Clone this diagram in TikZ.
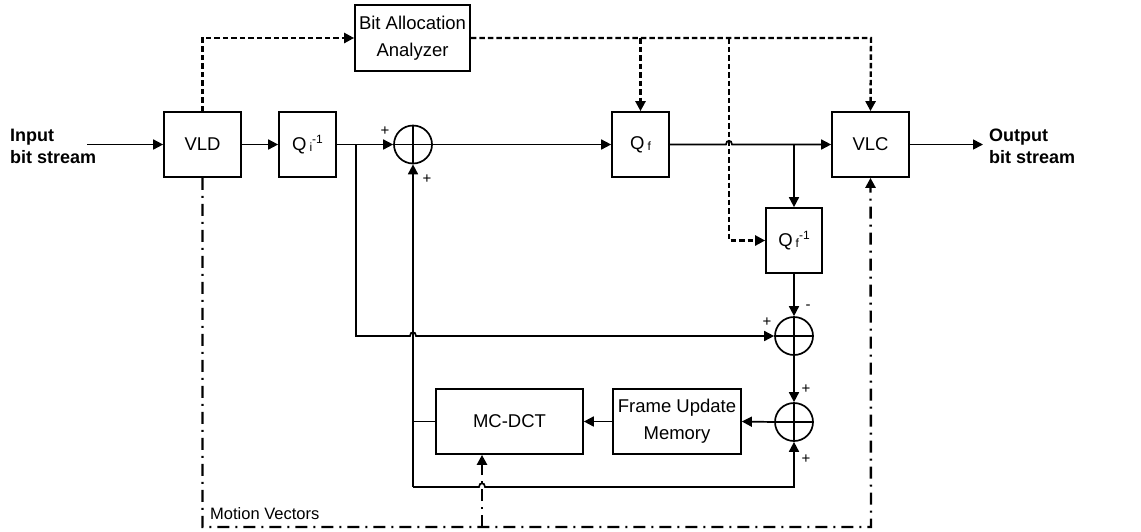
\documentclass[tikz,border=0pt]{standalone}
\usepackage{fontspec}
\setmainfont{Liberation Sans}
\usetikzlibrary{arrows.meta}
\newcommand{\smallsc}[1]{{\fontsize{12}{12}\selectfont #1}}
\begin{document}
\begin{tikzpicture}[x=1pt,y=-1pt,
  every node/.style={font=\fontsize{18.5}{27}\selectfont},
  blk/.style={draw, line width=1.7pt, inner sep=0pt, align=center},
  sumc/.style={draw, circle, minimum size=38pt, inner sep=0pt, line width=1.7pt,
    path picture={\draw[line width=1.7pt] (path picture bounding box.north) -- (path picture bounding box.south)
      (path picture bounding box.west) -- (path picture bounding box.east);}},
  wire/.style={line width=1.7pt},
  arr/.style={-{Triangle[length=10pt,width=10pt]}},
  dsh/.style={line width=2.4pt, dash pattern=on 5.5pt off 3pt},
  ddot/.style={line width=2.4pt, dash pattern=on 12pt off 6pt on 2pt off 6pt},
  sgn/.style={font=\fontsize{15}{15}\selectfont, inner sep=0pt},
  lbl/.style={font=\bfseries\fontsize{18}{22}\selectfont, align=left, inner sep=0pt}]
\useasboundingbox (0,0) rectangle (1141,531);

% blocks
\node[blk, minimum width=77pt, minimum height=65pt] (vld) at (202.5,144.5) {VLD};
\node[blk, minimum width=57pt, minimum height=65pt] (qi) at (307.5,144.5) {Q\,\raisebox{-1pt}{\smallsc{i}}\raisebox{7pt}{\smallsc{-1}}};
\node[sumc] (s1) at (413,144.5) {};
\node[blk, minimum width=115pt, minimum height=66pt] (baa) at (412.5,38) {Bit Allocation\\Analyzer};
\node[blk, minimum width=57pt, minimum height=65pt] (qf) at (640.5,144.5) {Q\,\raisebox{-1pt}{\smallsc{f}}};
\node[blk, minimum width=77pt, minimum height=65pt] (vlc) at (870.5,144.5) {VLC};
\node[blk, minimum width=56pt, minimum height=65pt] (qfi) at (794,240.5) {Q\,\raisebox{-1pt}{\smallsc{f}}\raisebox{7pt}{\smallsc{-1}}};
\node[sumc] (s2) at (794,336) {};
\node[sumc] (s3) at (794,422) {};
\node[blk, minimum width=128pt, minimum height=65pt] (fum) at (677,421.5) {Frame Update\\Memory};
\node[blk, minimum width=147pt, minimum height=65pt] (mc) at (509.5,421.5) {MC-DCT};

% texts
\node[lbl, anchor=west] (inp) at (10,146) {Input\\bit stream};
\node[lbl, anchor=west] (outp) at (989,146) {Output\\bit stream};
\node[anchor=west, inner sep=0pt, font=\fontsize{16.5}{16.5}\selectfont] (mv) at (210,514) {Motion Vectors};

% coordinates
\coordinate (inA) at (87,144.5);
\coordinate (outA) at (983,144.5);
\coordinate (jqi) at (356,144.5);
\coordinate (jqf) at (794,144.5);
\coordinate (jmc) at (413,421.5);
\coordinate (bl) at (413,487);
\coordinate (br) at (794,487);
\coordinate (dtopL) at (202.5,38);
\coordinate (dtopR) at (871,38);
\coordinate (dqf) at (640.5,38);
\coordinate (dq2) at (729,38);
\coordinate (dq2b) at (729,240.5);
\coordinate (ddL) at (202.5,527);
\coordinate (ddR) at (871,527);
\coordinate (ddM) at (482,527);

% solid signal path
\draw[wire, arr] (inA) -- (vld.west);
\draw[wire, arr] (vld.east) -- (qi.west);
\draw[wire, arr] (qi.east) -- (s1.west);
\draw[wire, arr] (s1.east) -- (qf.west);
\draw[wire, arr] (qf.east) -- (726,144.5) .. controls (726,139.5) and (732,139.5) .. (732,144.5) -- (vlc.west);
\draw[wire, arr] (vlc.east) -- (outA);
\draw[wire, arr] (jqf) -- (qfi.north);
\draw[wire, arr] (qfi.south) -- (s2.north);
\draw[wire, arr] (jqi) -- (356,336) -- (410,336) .. controls (410,331) and (416,331) .. (416,336) -- (s2.west);
\draw[wire, arr] (s2.south) -- (s3.north);
\draw[wire, arr] (s3.west) -- (fum.east);
\draw[wire, arr] (fum.west) -- (mc.east);
\draw[wire] (mc.west) -- (jmc);
\draw[wire, arr] (bl) -- (s1.south);
\draw[wire, arr] (bl) -- (479,487) .. controls (479,482) and (485,482) .. (485,487) -- (br) -- (s3.south);

% dashed control paths
\draw[dsh, arr] (vld.north) -- (dtopL) -- (baa.west);
\draw[dsh, arr] (baa.east) -- (dtopR) -- (vlc.north);
\draw[dsh, arr] (dqf) -- (qf.north);
\draw[dsh, arr] (dq2) -- (dq2b) -- (qfi.west);

% dash-dot motion vectors
\draw[ddot, arr] (vld.south) -- (ddL) -- (ddR) -- (vlc.south);
\draw[ddot, arr] (ddM) -- (ddM |- mc.south);

% signs
\node[sgn] (p1) at (385,131) {+};
\node[sgn] (p2) at (427,179) {+};
\node[sgn] (p3) at (767,322) {+};
\node[sgn] (m3) at (808,307) {-};
\node[sgn] (p4) at (806,389) {+};
\node[sgn] (p5) at (806,459) {+};
\end{tikzpicture}
\end{document}
